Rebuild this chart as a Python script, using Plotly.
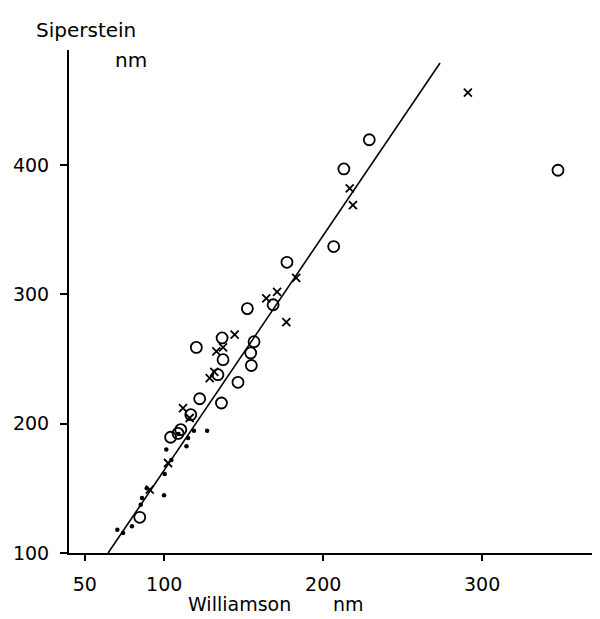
import plotly.graph_objects as go

# Data (Williamson nm vs Siperstein nm)
circle_x = [347.7, 229.0, 213.0, 206.6, 177.2, 168.5, 152.3, 136.4, 120.2, 156.5, 154.4,
            137.0, 154.8, 133.8, 146.4, 122.3, 136.0, 116.7, 110.4, 108.7, 104.0, 84.6]
circle_y = [396.0, 419.6, 397.0, 337.0, 324.8, 292.0, 289.0, 266.3, 259.0, 263.4, 254.7,
            249.5, 245.0, 237.9, 232.0, 219.3, 216.0, 207.0, 195.4, 192.5, 189.5, 127.6]

cross_x = [291.0, 216.7, 218.7, 183.0, 171.0, 164.2, 176.8, 144.3, 137.0, 132.8, 128.6,
           131.5, 111.8, 116.0, 102.4, 90.9]
cross_y = [456.0, 382.0, 369.0, 312.7, 302.0, 297.0, 278.6, 268.8, 259.0, 256.0, 235.3,
           240.0, 212.0, 204.4, 169.6, 149.0]

dot_x = [118.7, 127.0, 115.0, 114.0, 101.3, 104.5, 100.3, 89.0, 99.9, 86.0, 85.2, 79.7,
         70.5, 74.1, 109.0]
dot_y = [194.6, 194.6, 189.0, 182.5, 180.0, 172.0, 161.0, 150.0, 144.6, 142.5, 137.4,
         120.6, 118.0, 115.5, 192.0]

line_x = [64.7, 273.5]
line_y = [100.0, 479.0]

x_ticks = [50, 100, 200, 300]
y_ticks = [100, 200, 300, 400]

FONT = "DejaVu Sans"

fig = go.Figure()
fig.add_trace(go.Scatter(x=line_x, y=line_y, mode="lines",
                         line=dict(color="black", width=1.6), hoverinfo="skip"))
fig.add_trace(go.Scatter(x=dot_x, y=dot_y, mode="markers",
                         marker=dict(symbol="circle", size=4.5, color="black")))
fig.add_trace(go.Scatter(x=cross_x, y=cross_y, mode="markers",
                         marker=dict(symbol="x-thin", size=8,
                                     line=dict(color="black", width=1.8))))
fig.add_trace(go.Scatter(x=circle_x, y=circle_y, mode="markers",
                         marker=dict(symbol="circle-open", size=11, color="black",
                                     line=dict(color="black", width=1.8))))

fig.update_layout(
    width=600, height=619,
    margin=dict(l=61, r=2, t=42, b=74),
    paper_bgcolor="white", plot_bgcolor="white",
    showlegend=False,
    font=dict(family=FONT, color="black", size=19),
    xaxis=dict(range=[40.1, 377.9], tickvals=x_ticks, ticktext=[str(v) for v in x_ticks],
               showgrid=False, zeroline=False, showline=True, linecolor="black",
               linewidth=2, ticks="outside", ticklen=6, tickwidth=1.5,
               tickcolor="black", ticklabelstandoff=7,
               tickfont=dict(family=FONT, size=19)),
    yaxis=dict(range=[100, 489], tickvals=y_ticks, ticktext=[str(v) for v in y_ticks],
               showgrid=False, zeroline=False, showline=True, linecolor="black",
               linewidth=2, ticks="outside", ticklen=7, tickwidth=1.5,
               tickcolor="black", ticklabelstandoff=7,
               tickfont=dict(family=FONT, size=19)),
    annotations=[
        dict(text="Siperstein", xref="paper", yref="paper", x=0.0317, y=1.0398,
             showarrow=False, xanchor="center", yanchor="middle",
             font=dict(family=FONT, size=20)),
        dict(text="nm", xref="paper", yref="paper", x=0.1155, y=0.980,
             showarrow=False, xanchor="center", yanchor="middle",
             font=dict(family=FONT, size=20)),
        dict(text="Williamson", xref="paper", yref="paper", x=0.318, y=-0.128,
             showarrow=False, xanchor="center", yanchor="bottom",
             font=dict(family=FONT, size=19)),
        dict(text="nm", xref="paper", yref="paper", x=0.521, y=-0.128,
             showarrow=False, xanchor="center", yanchor="bottom",
             font=dict(family=FONT, size=19)),
    ],
)

fig.write_html("out.html")
